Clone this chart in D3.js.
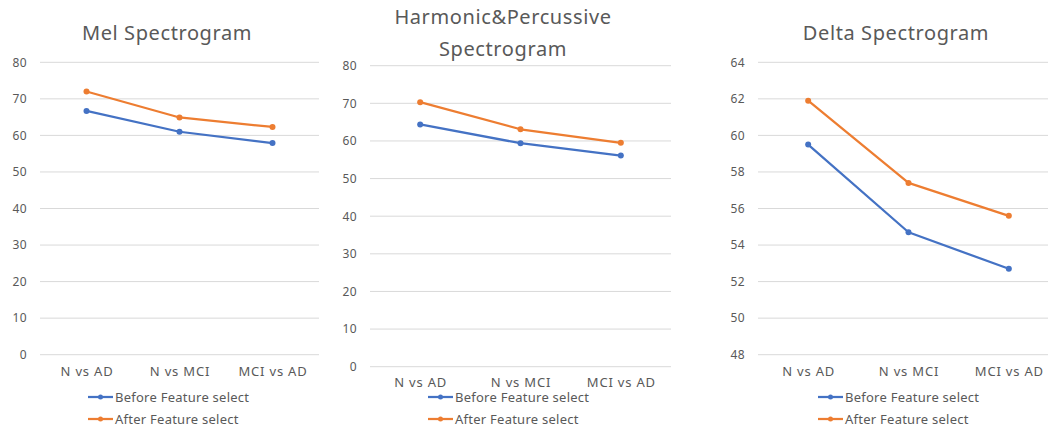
<!DOCTYPE html>
<html>
<head>
<meta charset="utf-8">
<script src="https://cdn.jsdelivr.net/npm/d3@7"></script>
<style>
body { margin: 0; background: #fff; }
svg text { font-family: "Noto Sans", sans-serif; fill: #595959; }
</style>
</head>
<body>
<div id="chart"></div>
<script>
var categories = ["N vs AD", "N vs MCI", "MCI vs AD"];
var seriesNames = ["Before Feature select", "After Feature select"];
var colors = ["#4472C4", "#ED7D31"];

// Mel Spectrogram
var melBefore = [66.7, 61.0, 57.9];
var melAfter = [72.0, 64.9, 62.3];
// Harmonic&Percussive Spectrogram
var hpBefore = [64.4, 59.4, 56.1];
var hpAfter = [70.3, 63.1, 59.5];
// Delta Spectrogram
var deltaBefore = [59.5, 54.7, 52.7];
var deltaAfter = [61.9, 57.4, 55.6];

var melTicks = [0, 10, 20, 30, 40, 50, 60, 70, 80];
var hpTicks = [0, 10, 20, 30, 40, 50, 60, 70, 80];
var deltaTicks = [48, 50, 52, 54, 56, 58, 60, 62, 64];

var svg = d3.select("#chart").append("svg")
  .attr("width", 1048)
  .attr("height", 428);

var panels = [
  {title: ["Mel Spectrogram"], titleX: 167, titleY: [40],
   left: 40, right: 319, top: 62.3, bottom: 354.7, labelY: 377,
   ticks: melTicks, series: [melBefore, melAfter], legendX: 88},
  {title: ["Harmonic&Percussive", "Spectrogram"], titleX: 503, titleY: [24, 56],
   left: 370, right: 671, top: 65.7, bottom: 366.7, labelY: 387.5,
   ticks: hpTicks, series: [hpBefore, hpAfter], legendX: 428},
  {title: ["Delta Spectrogram"], titleX: 896, titleY: [40],
   left: 758, right: 1059, top: 62.3, bottom: 354.7, labelY: 377,
   ticks: deltaTicks, series: [deltaBefore, deltaAfter], legendX: 818}
];

panels.forEach(function(p) {
  var g = svg.append("g");

  var x = d3.scalePoint()
    .domain(categories)
    .range([p.left, p.right])
    .padding(0.5);

  var y = d3.scaleLinear()
    .domain(d3.extent(p.ticks))
    .range([p.bottom, p.top]);

  // gridlines
  g.selectAll(".grid")
    .data(p.ticks)
    .enter().append("line")
    .attr("x1", p.left)
    .attr("x2", p.right)
    .attr("y1", function(d) { return y(d); })
    .attr("y2", function(d) { return y(d); })
    .attr("stroke", "#d9d9d9")
    .attr("stroke-width", 1);

  // y axis labels
  var yAxis = d3.axisLeft(y).tickValues(p.ticks).tickSize(0).tickPadding(13);
  var ya = g.append("g")
    .attr("transform", "translate(" + p.left + ",0)")
    .call(yAxis);
  ya.select(".domain").remove();
  ya.selectAll("text").style("font-size", "12px").style("letter-spacing", "0.4px").attr("fill", "#595959");

  // x axis labels
  var xAxis = d3.axisBottom(x).tickSize(0).tickPadding(0);
  var xa = g.append("g")
    .attr("transform", "translate(0," + (p.labelY - 10) + ")")
    .call(xAxis);
  xa.select(".domain").remove();
  xa.selectAll("text").style("font-size", "13px").style("letter-spacing", "0.8px").attr("fill", "#595959");

  // lines
  var line = d3.line()
    .x(function(d, i) { return x(categories[i]); })
    .y(function(d) { return y(d); });

  p.series.forEach(function(s, k) {
    g.append("path")
      .datum(s)
      .attr("fill", "none")
      .attr("stroke", colors[k])
      .attr("stroke-width", 2.25)
      .attr("stroke-linejoin", "round")
      .attr("d", line);
    g.selectAll(".pt" + k)
      .data(s)
      .enter().append("circle")
      .attr("cx", function(d, i) { return x(categories[i]); })
      .attr("cy", function(d) { return y(d); })
      .attr("r", 3)
      .attr("fill", colors[k]);
  });

  // title
  g.selectAll(".title")
    .data(p.title)
    .enter().append("text")
    .attr("x", p.titleX)
    .attr("y", function(d, i) { return p.titleY[i]; })
    .attr("text-anchor", "middle")
    .style("font-size", "20px")
    .style("letter-spacing", "0.6px")
    .text(function(d) { return d; });

  // legend
  var leg = g.selectAll(".leg")
    .data(seriesNames)
    .enter().append("g")
    .attr("transform", function(d, i) { return "translate(" + p.legendX + "," + (397 + i * 22) + ")"; });
  leg.append("line")
    .attr("x1", 0).attr("x2", 25)
    .attr("stroke", function(d, i) { return colors[i]; })
    .attr("stroke-width", 2.25);
  leg.append("circle")
    .attr("cx", 12.5).attr("r", 2.5)
    .attr("fill", function(d, i) { return colors[i]; });
  leg.append("text")
    .attr("x", 27)
    .attr("y", 5)
    .style("font-size", "13px")
    .style("letter-spacing", "0.25px")
    .text(function(d) { return d; });
});
</script>
</body>
</html>
